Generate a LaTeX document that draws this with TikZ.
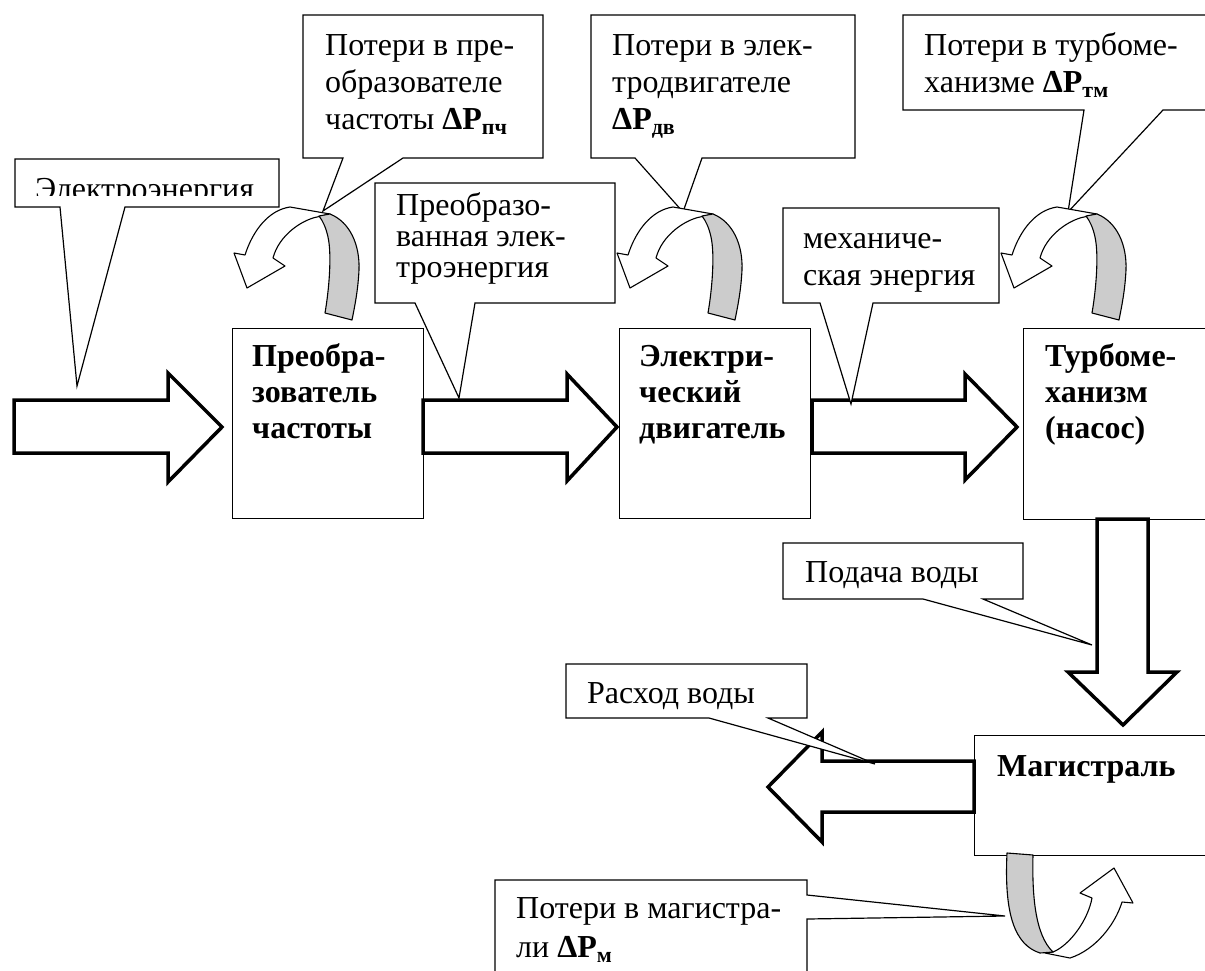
\documentclass[tikz,border=0pt]{standalone}
\usepackage{fontspec}
\setmainfont{Liberation Serif}
\definecolor{ribgrey}{RGB}{204,204,204}
\newcommand\lossribbon{%
  \path[ribw] (628,255) .. controls (636,230) and (652,210) .. (673,207) -- (713,214) -- (700,217)
    .. controls (685,220) and (662,235) .. (656,258) -- (668,266) -- (630,288) -- (617,253) -- cycle;
  \path[ribg] (702,216) -- (713,214) .. controls (733,222) and (743,245) .. (742,270)
    .. controls (741,290) and (738,305) .. (735,320) -- (708,313)
    .. controls (712,290) and (715,255) .. (711,237) .. controls (709,228) and (706,221) .. (702,216) -- cycle;
}
\newcommand\subb[1]{\raisebox{-5pt}{\fontsize{22}{22}\selectfont\bfseries #1}}
\begin{document}
\begin{tikzpicture}[x=1pt,y=-1pt,
  txt/.style={anchor=base west, inner sep=0pt, font=\fontsize{32}{37}\selectfont},
  btxt/.style={anchor=base west, inner sep=0pt, font=\fontsize{32}{37}\selectfont\bfseries},
  blk/.style={draw, line width=1.2pt, fill=white, rectangle, anchor=north west, inner sep=0pt},
  callout/.style={draw, line width=1.2pt, fill=white, line join=miter},
  barrow/.style={draw, line width=3.5pt, fill=white, line join=miter, miter limit=10},
  ribw/.style={draw, line width=1.1pt, fill=white, line join=round},
  ribg/.style={draw, line width=1.1pt, fill=ribgrey, line join=round}]
\useasboundingbox (0,0) rectangle (1205,970);
\clip (0,0) rectangle (1205,970);

% process boxes
\node[blk, minimum width=191pt, minimum height=190pt] (b1) at (232,328) {};
\node[blk, minimum width=191pt, minimum height=190pt] (b2) at (619,328) {};
\node[blk, minimum width=260pt, minimum height=191pt] (b3) at (1023,328) {};
\node[blk, minimum width=260pt, minimum height=120pt] (b4) at (974,735) {};

\node[btxt] (b1a) at (252,366) {Преобра-};
\node[btxt] (b1b) at (252,402) {зователь};
\node[btxt] (b1c) at (252,438) {частоты};
\node[btxt] (b2a) at (639,366) {Электри-};
\node[btxt] (b2b) at (639,402) {ческий};
\node[btxt] (b2c) at (639,438) {двигатель};
\node[btxt] (b3a) at (1045,366) {Турбоме-};
\node[btxt] (b3b) at (1045,402) {ханизм};
\node[btxt] (b3c) at (1045,438) {(насос)};
\node[btxt] (b4a) at (997,776) {Магистраль};

% block arrows
\path[barrow] (14,400) -- (168,400) -- (168,373) -- (222,427) -- (168,482) -- (168,453) -- (14,453) -- cycle;
\path[barrow] (423,400) -- (567,400) -- (567,374) -- (617,427) -- (567,481) -- (567,453) -- (423,453) -- cycle;
\path[barrow] (812,400) -- (965,400) -- (965,374) -- (1017,427) -- (965,480) -- (965,453) -- (812,453) -- cycle;
\path[barrow] (1097,519) -- (1097,672) -- (1068,672) -- (1123,725) -- (1177,672) -- (1148,672) -- (1148,519) -- cycle;
\path[barrow] (974,761) -- (822,761) -- (822,732) -- (768,787) -- (822,842) -- (822,812) -- (974,812) -- cycle;

% callouts
\path[callout] (15,159) -- (279,159) -- (279,207) -- (125,207) -- (77,386) -- (60,207) -- (15,207) -- cycle;
\path[callout] (303,15) -- (543,15) -- (543,158) -- (403,158) -- (323,211) -- (343,158) -- (303,158) -- cycle;
\path[callout] (591,15) -- (855,15) -- (855,158) -- (702,158) -- (683,212) -- (635,158) -- (591,158) -- cycle;
\path[callout] (903,15) -- (1215,15) -- (1215,110) -- (1163,110) -- (1068,212) -- (1084,110) -- (903,110) -- cycle;
\path[callout] (375,183) -- (615,183) -- (615,303) -- (475,303) -- (459,398) -- (415,303) -- (375,303) -- cycle;
\path[callout] (783,208) -- (999,208) -- (999,303) -- (873,303) -- (851,404) -- (820,303) -- (783,303) -- cycle;
\path[callout] (783,543) -- (1023,543) -- (1023,599) -- (983,599) -- (1092,645) -- (923,599) -- (783,599) -- cycle;
\path[callout] (566,664) -- (807,664) -- (807,718) -- (768,718) -- (875,764) -- (709,718) -- (566,718) -- cycle;
\path[callout] (495,880) -- (807,880) -- (807,895) -- (1005,916) -- (807,919) -- (807,990) -- (495,990) -- cycle;

% callout texts
\begin{scope}
  \clip (15,150) rectangle (279,195.5);
  \node[txt] (c1) at (35,199) {Электроэнергия};
\end{scope}
\node[txt] (c2a) at (325,55) {Потери в пре-};
\node[txt] (c2b) at (325,92) {образователе};
\node[txt] (c2c) at (325,129) {частоты \textbf{ΔP}\subb{пч}};
\node[txt] (c3a) at (612,55) {Потери в элек-};
\node[txt] (c3b) at (612,92) {тродвигателе};
\node[txt] (c3c) at (612,129) {\textbf{ΔP}\subb{дв}};
\node[txt] (c4a) at (924,55) {Потери в турбоме-};
\node[txt] (c4b) at (924,92) {ханизме \textbf{ΔP}\subb{тм}};
\node[txt] (c5a) at (396,215) {Преобразо-};
\node[txt] (c5b) at (396,246) {ванная элек-};
\node[txt] (c5c) at (396,277) {троэнергия};
\node[txt] (c6a) at (803,248) {механиче-};
\node[txt] (c6b) at (803,285) {ская энергия};
\node[txt] (c7) at (805,582) {Подача воды};
\node[txt] (c8) at (587,703) {Расход воды};
\node[txt] (c9a) at (516,918) {Потери в магистра-};
\node[txt] (c9b) at (516,957) {ли \textbf{ΔP}\subb{м}};

% loss ribbons
\begin{scope}[shift={(-383,0)}]\lossribbon\end{scope}
\lossribbon
\begin{scope}[shift={(384,0)}]\lossribbon\end{scope}
\path[ribw] (1045,953) -- (1070,958) .. controls (1095,950) and (1115,925) .. (1122,902) -- (1133,903)
  -- (1114,868) -- (1080,893) -- (1092,898) .. controls (1088,920) and (1070,945) .. (1053,952) -- cycle;
\path[ribg] (1007,853) -- (1033,855) .. controls (1032,895) and (1035,935) .. (1053,952) -- (1040,953)
  .. controls (1015,945) and (1004,915) .. (1007,853) -- cycle;
\end{tikzpicture}
\end{document}
